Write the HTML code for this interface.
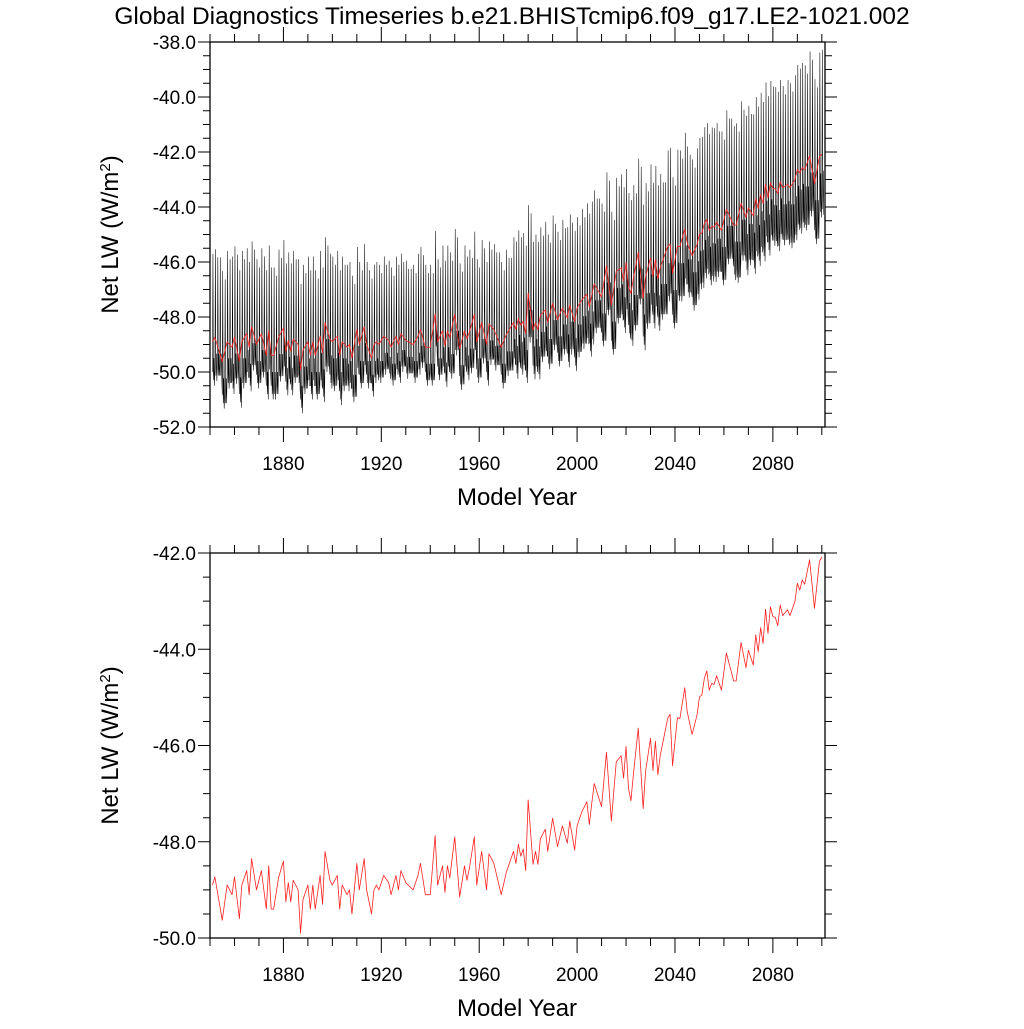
<!DOCTYPE html>
<html><head><meta charset="utf-8"><style>
html,body{margin:0;padding:0;background:#fff;}
svg text{font-family:"Liberation Sans",Arial,sans-serif;fill:#000;}
</style></head><body>
<svg id="chart" width="1024" height="1024" viewBox="0 0 1024 1024" xmlns="http://www.w3.org/2000/svg">
<text x="512" y="24" font-size="24.5" text-anchor="middle">Global Diagnostics Timeseries b.e21.BHISTcmip6.f09_g17.LE2-1021.002</text>
<g id="top"></g>
<g id="bot"></g>
</svg>
<script>
// annual mean Net LW
const years = [1851,1852,1855,1857,1859,1860,1862,1863,1865,1866,1867,1869,1871,1873,1874,1875,1876,1878,1880,1881,1882,1883,1884,1886,1887,1888,1890,1891,1892,1893,1895,1896,1897,1899,1900,1902,1903,1904,1906,1907,1908,1910,1911,1913,1914,1916,1917,1918,1919,1921,1923,1924,1926,1927,1928,1930,1933,1935,1936,1938,1940,1942,1943,1945,1946,1947,1948,1950,1952,1954,1955,1956,1958,1959,1961,1963,1964,1966,1969,1971,1974,1975,1976,1977,1978,1979,1980,1982,1983,1984,1985,1987,1988,1990,1992,1994,1996,1997,1999,2000,2002,2004,2005,2006,2007,2010,2012,2014,2016,2018,2019,2020,2021,2022,2023,2025,2027,2028,2030,2031,2032,2033,2034,2037,2038,2039,2041,2042,2044,2045,2047,2049,2050,2051,2052,2053,2054,2055,2056,2057,2059,2061,2064,2065,2067,2069,2070,2072,2073,2074,2075,2076,2077,2078,2079,2080,2081,2082,2083,2084,2086,2087,2089,2090,2091,2092,2093,2095,2097,2099,2100];
const values = [-48.9,-48.73,-49.63,-48.9,-49.1,-48.73,-49.6,-48.9,-48.6,-49.1,-48.35,-49.0,-48.6,-49.4,-48.5,-49.4,-49.4,-48.75,-48.4,-49.25,-48.85,-49.25,-48.8,-49.0,-49.9,-49.2,-48.9,-49.4,-48.9,-49.4,-48.7,-49.3,-48.2,-48.8,-48.9,-48.7,-49.4,-48.9,-49.1,-49.0,-49.5,-48.45,-49.0,-48.35,-49.0,-49.5,-49.0,-48.9,-49.0,-48.7,-48.85,-49.1,-48.7,-49.0,-48.6,-48.85,-49.0,-48.7,-48.45,-49.1,-49.1,-47.87,-48.9,-48.5,-49.05,-48.5,-48.75,-47.9,-49.15,-48.5,-48.8,-48.55,-47.9,-48.9,-48.2,-49.0,-48.25,-48.45,-49.1,-48.65,-48.2,-48.45,-48.05,-48.3,-48.15,-48.6,-47.13,-48.47,-48.2,-48.47,-47.94,-47.74,-48.2,-47.51,-48.1,-47.67,-48.03,-47.57,-48.17,-47.67,-47.37,-47.17,-47.64,-47.2,-46.79,-47.27,-46.14,-47.57,-46.34,-46.21,-46.68,-46.02,-46.89,-47.15,-46.6,-45.64,-47.31,-46.53,-45.85,-46.52,-45.91,-46.61,-46.2,-45.44,-45.35,-46.42,-45.42,-45.44,-44.8,-45.3,-45.77,-45.37,-44.99,-44.95,-44.6,-44.45,-44.85,-44.71,-44.73,-44.55,-44.85,-44.08,-44.66,-44.66,-43.86,-44.38,-44.02,-44.33,-43.7,-44.05,-43.55,-43.88,-43.17,-43.67,-43.12,-43.32,-43.34,-43.51,-43.08,-43.3,-43.18,-43.3,-43.01,-42.63,-42.77,-42.56,-42.65,-42.14,-43.15,-42.18,-42.08];
// seasonal extremes per decade (monthly panel): peak above / trough below annual mean
const decades = [1850,1860,1870,1880,1890,1900,1910,1920,1930,1940,1950,1960,1970,1980,1990,2000,2010,2020,2030,2040,2050,2060,2070,2080,2090,2100];
const peakUp  = [3.2,3.3,3.1,3.2,3.1,3.1,3.0,2.9,2.9,3.0,3.1,3.0,3.1,3.2,3.2,3.3,3.4,3.4,3.4,3.5,3.5,3.6,3.7,3.7,3.8,3.8];
const troughDn= [1.6,1.7,1.6,1.6,1.6,1.8,1.6,1.4,1.4,1.4,1.5,1.5,1.5,1.8,1.7,1.8,1.8,1.9,1.9,2.0,2.0,2.0,2.1,2.1,2.2,2.2];
const xTicks = [1880,1920,1960,2000,2040,2080];
const topYTicks = [-38,-40,-42,-44,-46,-48,-50,-52];
const botYTicks = [-42,-44,-46,-48,-50];

const NS='http://www.w3.org/2000/svg';
const X0=210,X1=825,YR0=1850,YR1=2101.3;
const xs=y=>X0+(y-YR0)/(YR1-YR0)*(X1-X0);
function mk(tag,attrs,parent){const e=document.createElementNS(NS,tag);for(const k in attrs)e.setAttribute(k,attrs[k]);parent.appendChild(e);return e;}

function panel(g,top,bot,ymax,ymin,yticks,name){
  const ys=v=>top+(ymax-v)/(ymax-ymin)*(bot-top);
  let d='';
  for(let yr=1850;yr<=2100;yr+=10){const x=xs(yr),maj=xTicks.includes(yr);const L=maj?15:8;
    d+=`M${x},${bot}v${L}M${x},${top}v${-L}`;}
  for(let v=ymin;v<=ymax+1e-6;v+=0.5){const y=ys(v);const maj=Math.abs(v-Math.round(v/2)*2)<1e-6;const L=maj?12:7;
    d+=`M${X0},${y}h${-L}M${X1},${y}h${L}`;}
  const t=mk('path',{d:d,stroke:'#000','stroke-width':1,fill:'none'},g);
  
  
  const box=mk('rect',{x:X0,y:top,width:X1-X0,height:bot-top,fill:'none',stroke:'#000','stroke-width':1.3},g);
  
  
  yticks.forEach(v=>{const tx=mk('text',{x:196,y:ys(v)+7,'font-size':19,'text-anchor':'end'},g);tx.textContent=v.toFixed(1);
    
    });
  xTicks.forEach(v=>{const tx=mk('text',{x:xs(v),y:bot+43,'font-size':19,'text-anchor':'middle'},g);tx.textContent=v;
    
    });
  const xt=mk('text',{x:517,y:bot+78,'font-size':24,'text-anchor':'middle'},g);xt.textContent='Model Year';
  
  
  const cy=(top+bot)/2;
  const yt=mk('text',{x:118,y:cy,'font-size':24,'text-anchor':'middle',transform:`rotate(-90 118 ${cy})`},g);
  yt.innerHTML='Net LW (W/m<tspan dy="-8" font-size="15">2</tspan><tspan dy="8">)</tspan>';
  
  
  return ys;
}

const gT=document.getElementById('top'), gB=document.getElementById('bot');
const ysT=panel(gT,42,427,-38,-52,topYTicks,'top-panel');
const ysB=panel(gB,553,938,-42,-50,botYTicks,'bottom-panel');

// monthly black series (top): one seasonal cycle per model year
let md='', first=true;
for(let i=0;i<years.length;i++){
  const di=Math.min(decades.length-1,Math.round((years[i]-1850)/10));
  const m=values[i], hi=m+peakUp[di], lo=m-troughDn[di];
  const span=(i+1<years.length?years[i+1]:years[i]+1)-years[i];
  for(let s=0;s<span;s++){
    const x=xs(years[i]+s), w=xs(years[i]+s+1)-x;
    const pts=[[0,lo+0.5],[0.2,hi-(s?0.3:0)],[0.4,lo+0.2],[0.6,m-0.6],[0.8,lo+(s?0.2:0)]];
    pts.forEach(p=>{md+=(first?'M':'L')+(x+p[0]*w).toFixed(2)+','+ysT(p[1]).toFixed(2);first=false;});
  }
}
const ml=mk('path',{d:md,stroke:'#000','stroke-width':0.55,fill:'none'},gT);



function redLine(g,ys,w,name){
  const d=years.map((y,i)=>(i?'L':'M')+xs(y).toFixed(2)+','+ys(values[i]).toFixed(2)).join('');
  const p=mk('path',{d:d,stroke:'#ff2020','stroke-width':w,fill:'none','stroke-linejoin':'round'},g);
  
  
}
redLine(gT,ysT,0.8,'annual-mean-line-top');
redLine(gB,ysB,0.8,'annual-mean-line');
</script>
</body></html>
